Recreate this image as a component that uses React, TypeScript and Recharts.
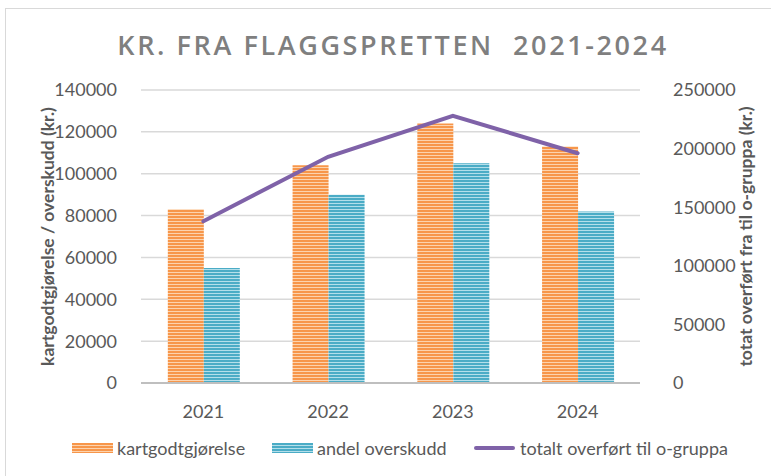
import { Bar, ComposedChart, CartesianGrid, Line, XAxis, YAxis } from "recharts";

// Values (kr.)
const years = ["2021", "2022", "2023", "2024"];
const kartgodtgjorelse = [83000, 104000, 124000, 113000];
const andelOverskudd = [55000, 90000, 105000, 82000];
const totaltOverfort = [138000, 193000, 228000, 196000];
const leftTicks = [0, 20000, 40000, 60000, 80000, 100000, 120000, 140000];
const rightTicks = [0, 50000, 100000, 150000, 200000, 250000];

const ORANGE = "#f7964a";
const ORANGE_LIGHT = "#fcd3ae";
const BLUE = "#4bacc6";
const BLUE_LIGHT = "#b4dfea";
const PURPLE = "#7f62a8";
const TEXT = "#595959";

const data = years.map((y, i) => ({
  year: y,
  kart: kartgodtgjorelse[i],
  andel: andelOverskudd[i],
  total: totaltOverfort[i],
}));

function AxisLabel({ viewBox, value, posX }: any) {
  const cy = viewBox.y + viewBox.height / 2;
  return (
    <text
      x={posX}
      y={cy}
      transform={`rotate(-90, ${posX}, ${cy})`}
      textAnchor="middle"
      dominantBaseline="central"
      fill={TEXT}
      fontFamily="Lato"
      fontWeight={700}
      fontSize={17.5}
    >
      {value}
    </text>
  );
}

function LegendRow() {
  const item = (swatch: React.ReactNode, label: string, left: number) => (
    <div
      style={{
        position: "absolute",
        left,
        top: 0,
        display: "flex",
        alignItems: "center",
        height: 20,
      }}
    >
      {swatch}
      <span style={{ marginLeft: 4 }}>{label}</span>
    </div>
  );
  const bar = (id: string) => (
    <svg width={41} height={10}>
      <rect width={41} height={10} fill={`url(#${id})`} />
    </svg>
  );
  return (
    <div
      style={{
        position: "absolute",
        top: 438,
        left: 0,
        width: 771,
        fontFamily: "Lato",
        fontSize: 18,
        color: TEXT,
      }}
    >
      {item(bar("orangeStripes"), "kartgodtgjørelse", 72)}
      {item(bar("blueStripes"), "andel overskudd", 272)}
      {item(
        <svg width={43} height={10}>
          <line x1={3} y1={5} x2={40} y2={5} stroke={PURPLE} strokeWidth={4} strokeLinecap="round" />
        </svg>,
        "totalt overført til o-gruppa",
        473
      )}
    </div>
  );
}

export default function App() {
  return (
    <div style={{ position: "absolute", left: 0, top: 0, width: 771, height: 476, background: "#fff" }}>
      <div
        style={{
          position: "absolute",
          left: 5,
          top: 8,
          width: 780,
          height: 480,
          border: "1px solid #d9d9d9",
          boxSizing: "border-box",
        }}
      />
      <div
        style={{
          position: "absolute",
          top: 26,
          left: 0,
          width: 786,
          textAlign: "center",
          fontFamily: "Open Sans",
          fontWeight: 600,
          fontSize: 27,
          letterSpacing: 2.6,
          color: "#7f7f7f",
        }}
      >
        KR. FRA FLAGGSPRETTEN&nbsp; 2021-2024
      </div>
      <ComposedChart
        width={771}
        height={476}
        data={data}
        margin={{ top: 90, right: 0, bottom: 0, left: 0 }}
        barCategoryGap="21.5%"
        barGap={0}
        style={{ position: "absolute", left: 0, top: 0 }}
      >
        <defs>
          <pattern id="orangeStripes" patternUnits="userSpaceOnUse" width={6} height={3}>
            <rect width={6} height={3} fill={ORANGE} />
            <rect y={2} width={6} height={1} fill={ORANGE_LIGHT} />
          </pattern>
          <pattern id="blueStripes" patternUnits="userSpaceOnUse" width={6} height={3}>
            <rect width={6} height={3} fill={BLUE} />
            <rect y={2} width={6} height={1} fill={BLUE_LIGHT} />
          </pattern>
        </defs>
        <CartesianGrid yAxisId="left" vertical={false} stroke="#d9d9d9" strokeWidth={1.5} />
        <XAxis
          dataKey="year"
          height={93}
          tickLine={false}
          axisLine={{ stroke: "#bfbfbf", strokeWidth: 2 }}
          tick={{ fill: TEXT, fontFamily: "Lato", fontSize: 18, dy: 4 }}
          tickMargin={12}
        />
        <YAxis
          yAxisId="left"
          width={141}
          domain={[0, 140000]}
          ticks={leftTicks}
          interval={0}
          axisLine={false}
          tickLine={false}
          tickMargin={18}
          tick={{ fill: TEXT, fontFamily: "Lato", fontSize: 18 }}
          label={<AxisLabel value="kartgodtgjørelse / overskudd (kr.)" posX={47} />}
        />
        <YAxis
          yAxisId="right"
          orientation="right"
          width={131}
          domain={[0, 250000]}
          ticks={rightTicks}
          interval={0}
          axisLine={false}
          tickLine={false}
          tickMargin={27}
          tick={{ fill: TEXT, fontFamily: "Lato", fontSize: 18, textAnchor: "start" }}
          label={<AxisLabel value="totat overført fra til o-gruppa (kr.)" posX={745} />}
        />
        <Bar yAxisId="left" dataKey="kart" fill="url(#orangeStripes)" isAnimationActive={false} />
        <Bar yAxisId="left" dataKey="andel" fill="url(#blueStripes)" isAnimationActive={false} />
        <Line
          yAxisId="right"
          dataKey="total"
          stroke={PURPLE}
          strokeWidth={4}
          dot={false}
          activeDot={false}
          strokeLinecap="round"
          isAnimationActive={false}
        />
      </ComposedChart>
      <LegendRow />
    </div>
  );
}
